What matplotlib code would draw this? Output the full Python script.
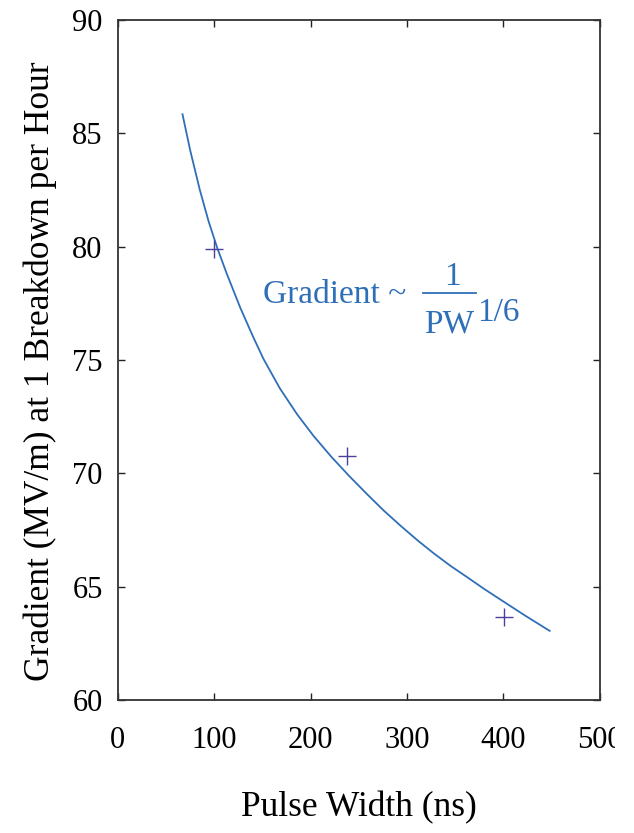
import matplotlib
matplotlib.use("Agg")
import matplotlib.pyplot as plt
from matplotlib.transforms import Bbox, TransformedBbox, IdentityTransform

plt.rcParams['font.family'] = ['Liberation Serif', 'DejaVu Serif']

# measured points
pulse_width = [100, 238, 401]
gradient = [79.9, 70.75, 63.65]

# fitted curve
fit_pw = [67, 75, 85, 94, 103, 113, 127, 140, 151, 168, 186, 203,
          221, 240, 259, 276, 294, 311, 328, 345, 363, 380, 398, 423, 448]
fit_grad = [85.84, 84.25, 82.5, 81.13, 79.95, 78.8, 77.3, 76.05, 75.05, 73.75, 72.6, 71.65,
            70.75, 69.88, 69.06, 68.35, 67.66, 67.04, 66.46, 65.92, 65.4, 64.9, 64.4, 63.71, 63.05]

line_col = '#2f6fb8'
mark_col = '#4f3f9c'

fig = plt.figure(figsize=(6.34, 8.33), dpi=100)
ax = fig.add_axes([0.186, 0.1597, 0.76, 0.8163])

ax.plot(fit_pw, fit_grad, color=line_col, lw=1.3)
ax.plot(pulse_width, gradient, ls='none', marker='+', ms=13, mew=1.0, color=mark_col)

ax.set_xlim(0, 500)
ax.set_ylim(60, 90)
ax.set_xticks([0, 100, 200, 300, 400, 500])
ax.set_yticks([60, 65, 70, 75, 80, 85, 90])
ax.tick_params(direction='in', length=5, width=1.0, labelsize=22,
               top=True, right=True, colors='#222222', labelcolor='black')
ax.tick_params(axis='x', pad=19)
ax.tick_params(axis='y', pad=11)
for s in ax.spines.values():
    s.set_linewidth(1.3)
    s.set_color('#333333')

ax.set_xlabel('Pulse Width (ns)', fontsize=25.5, labelpad=26)
ax.set_ylabel('Gradient (MV/m) at 1 Breakdown per Hour', fontsize=25.5)
ax.yaxis.set_label_coords(-0.127, 0.483)

# equation label
ax.text(151, 77.5, 'Gradient ~', color=line_col, fontsize=24, ha='left', va='baseline')
ax.text(347.6, 78.31, '1', color=line_col, fontsize=24, ha='center', va='baseline')
ax.plot([316.4, 371.9], [77.97, 77.97], color=line_col, lw=1.3)
ax.text(343.5, 76.22, 'PW', color=line_col, fontsize=24, ha='center', va='baseline')
ax.text(373, 76.72, '1/6', color=line_col, fontsize=24, ha='left', va='baseline')

# the original picture is cut off just right of the axes
clip = TransformedBbox(Bbox([[0, 0], [615, 833]]), IdentityTransform())
for lab in ax.get_xticklabels():
    lab.set_clip_on(True)
    lab.set_clip_box(clip)

fig.savefig('out.png', dpi=100)
